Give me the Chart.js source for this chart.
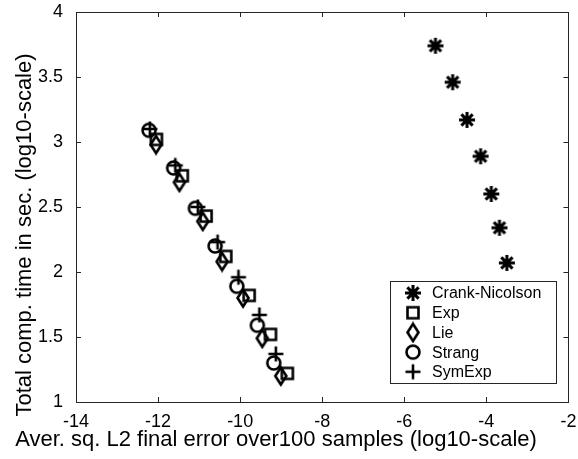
<!DOCTYPE html>
<html>
<head>
<meta charset="utf-8">
<script src="https://cdn.jsdelivr.net/npm/chart.js@4.4.1/dist/chart.umd.min.js"></script>
<style>
  html, body { margin: 0; padding: 0; background: #fff; }
  #wrap { width: 578px; height: 459px; }
</style>
</head>
<body>
<div id="wrap"><canvas id="chart" width="578" height="459"></canvas></div>
<script>
// --- DATA ---
const seriesNames = ["Crank-Nicolson", "Exp", "Lie", "Strang", "SymExp"];

const crankErr  = [-5.24, -4.82, -4.47, -4.14, -3.88, -3.68, -3.50];
const crankTime = [3.74, 3.46, 3.17, 2.89, 2.60, 2.34, 2.07];

const expErr  = [-12.04, -11.41, -10.83, -10.35, -9.78, -9.26, -8.85];
const expTime = [3.02, 2.74, 2.43, 2.12, 1.82, 1.52, 1.22];

const lieErr  = [-12.05, -11.48, -10.91, -10.44, -9.93, -9.46, -9.01];
const lieTime = [2.98, 2.69, 2.39, 2.08, 1.80, 1.49, 1.20];

const strangErr  = [-12.22, -11.62, -11.09, -10.61, -10.08, -9.58, -9.18];
const strangTime = [3.09, 2.80, 2.49, 2.20, 1.89, 1.59, 1.30];

const symErr  = [-12.20, -11.58, -11.03, -10.55, -10.04, -9.53, -9.13];
const symTime = [3.10, 2.82, 2.50, 2.23, 1.96, 1.67, 1.37];

const xTicks = [-14, -12, -10, -8, -6, -4, -2];
const yTicks = [1, 1.5, 2, 2.5, 3, 3.5, 4];

const xTitle = "Aver. sq. L2 final error over100 samples (log10-scale)";
const yTitle = "Total comp. time in sec. (log10-scale)";

const FONT = "'Liberation Sans', Arial, sans-serif";
const AXIS_COLOR = "#262626";

// --- MARKERS (matlab-like, unfilled, drawn once into small canvases) ---
function makeMarker(kind) {
  const s = 22, m = s / 2;
  const c = document.createElement("canvas");
  c.width = s; c.height = s;
  const g = c.getContext("2d");
  g.strokeStyle = "#000";
  g.lineWidth = 2.6;
  g.beginPath();
  if (kind === "star") {
    const r = 8;
    g.lineWidth = 3;
    for (let i = 0; i < 4; i++) {
      const a = i * Math.PI / 4;
      g.moveTo(m - r * Math.cos(a), m - r * Math.sin(a));
      g.lineTo(m + r * Math.cos(a), m + r * Math.sin(a));
    }
  } else if (kind === "square") {
    g.rect(m - 5.5, m - 5.5, 11, 11);
  } else if (kind === "diamond") {
    g.moveTo(m, m - 8.5); g.lineTo(m + 5.5, m); g.lineTo(m, m + 8.5); g.lineTo(m - 5.5, m);
    g.closePath();
  } else if (kind === "circle") {
    g.arc(m, m, 6.5, 0, Math.PI * 2);
  } else if (kind === "plus") {
    g.moveTo(m - 7.5, m); g.lineTo(m + 7.5, m);
    g.moveTo(m, m - 7.5); g.lineTo(m, m + 7.5);
  }
  g.stroke();
  return c;
}

const markers = [makeMarker("star"), makeMarker("square"), makeMarker("diamond"),
                 makeMarker("circle"), makeMarker("plus")];

function toPoints(xs, ys) {
  return xs.map((x, i) => ({ x: x, y: ys[i] }));
}

const allX = [crankErr, expErr, lieErr, strangErr, symErr];
const allY = [crankTime, expTime, lieTime, strangTime, symTime];

const datasets = seriesNames.map((name, i) => ({
  label: name,
  data: toPoints(allX[i], allY[i]),
  pointStyle: markers[i],
  showLine: false,
  borderColor: "#000",
  backgroundColor: "rgba(0,0,0,0)"
}));

// --- BOX, INWARD TICKS, LEGEND, AXIS TITLES ---
const framePlugin = {
  id: "frame",
  afterDraw(chart) {
    const ctx = chart.ctx;
    const a = chart.chartArea;
    const xs = chart.scales.x, ys = chart.scales.y;
    const tl = 5;
    ctx.save();
    ctx.strokeStyle = AXIS_COLOR;
    ctx.lineWidth = 1;
    ctx.strokeRect(Math.round(a.left) + 0.5, Math.round(a.top) + 0.5,
                   Math.round(a.right - a.left), Math.round(a.bottom - a.top));
    ctx.beginPath();
    xTicks.forEach(v => {
      const px = Math.round(xs.getPixelForValue(v)) + 0.5;
      ctx.moveTo(px, a.bottom); ctx.lineTo(px, a.bottom - tl);
      ctx.moveTo(px, a.top); ctx.lineTo(px, a.top + tl);
    });
    yTicks.forEach(v => {
      const py = Math.round(ys.getPixelForValue(v)) + 0.5;
      ctx.moveTo(a.left, py); ctx.lineTo(a.left + tl, py);
      ctx.moveTo(a.right, py); ctx.lineTo(a.right - tl, py);
    });
    ctx.stroke();

    // legend (inside the axes, lower right)
    const lx = 390.5, ly = 281.5, lw = 166, lh = 102;
    ctx.fillStyle = "#fff";
    ctx.fillRect(lx, ly, lw, lh);
    ctx.strokeRect(lx, ly, lw, lh);
    ctx.font = "16px " + FONT;
    ctx.textAlign = "left";
    ctx.textBaseline = "middle";
    chart.data.datasets.forEach((ds, i) => {
      const cy = 293 + i * 19.7;
      const img = ds.pointStyle;
      ctx.drawImage(img, 413 - img.width / 2, cy - img.height / 2);
      ctx.fillStyle = "#000";
      ctx.fillText(ds.label, 432, cy + 1);
    });

    // axis titles
    ctx.fillStyle = "#000";
    ctx.font = "22px " + FONT;
    ctx.textAlign = "center";
    ctx.textBaseline = "alphabetic";
    ctx.fillText(xTitle, 276, 446);
    ctx.translate(31, 235);
    ctx.rotate(-Math.PI / 2);
    ctx.fillText(yTitle, 0, 0);
    ctx.restore();
  }
};

new Chart(document.getElementById("chart"), {
  type: "scatter",
  data: { datasets: datasets },
  options: {
    responsive: false,
    animation: false,
    layout: { padding: { top: 12, right: 7, left: 0, bottom: 0 } },
    elements: { point: { radius: 7, borderWidth: 2.6 } },
    plugins: {
      legend: { display: false },
      tooltip: { enabled: false }
    },
    scales: {
      x: {
        type: "linear",
        min: -14,
        max: -2,
        afterBuildTicks: s => { s.ticks = xTicks.map(v => ({ value: v })); },
        afterFit: s => { s.height = 57; s.paddingLeft = 0; s.paddingRight = 0; },
        grid: { display: false, drawTicks: false },
        border: { display: false },
        ticks: {
          color: "#000",
          font: { family: FONT, size: 18 },
          padding: 9,
          maxRotation: 0,
          autoSkip: false,
          callback: v => String(v)
        }
      },
      y: {
        type: "linear",
        min: 1,
        max: 4,
        afterBuildTicks: s => { s.ticks = yTicks.map(v => ({ value: v })); },
        afterFit: s => { s.width = 76; s.paddingTop = 0; s.paddingBottom = 0; },
        grid: { display: false, drawTicks: false },
        border: { display: false },
        ticks: {
          color: "#000",
          font: { family: FONT, size: 18 },
          padding: 13,
          autoSkip: false,
          callback: v => String(v)
        }
      }
    }
  },
  plugins: [framePlugin]
});
</script>
</body>
</html>
